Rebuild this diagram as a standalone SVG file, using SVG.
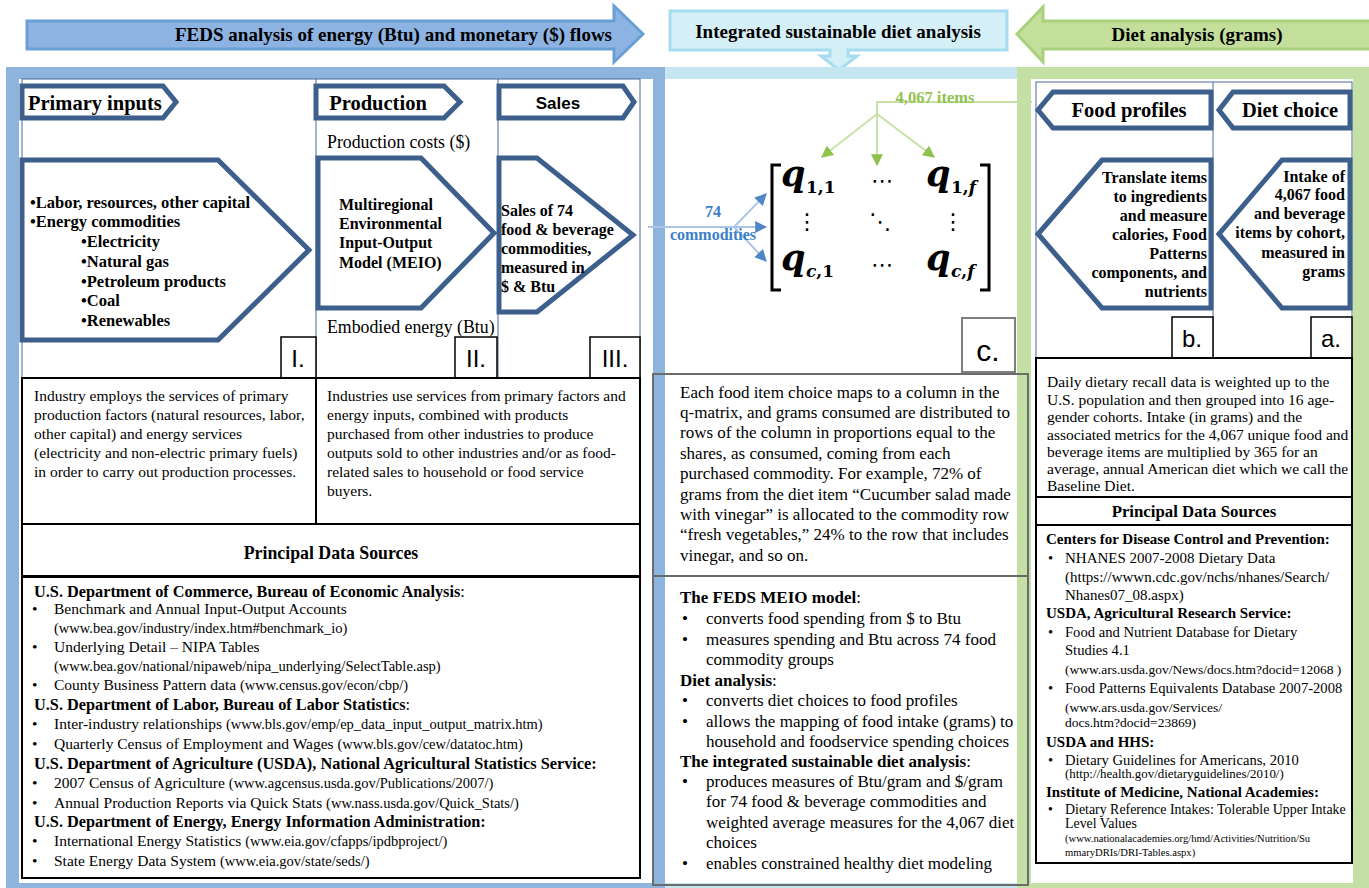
<svg xmlns="http://www.w3.org/2000/svg" width="1369" height="888" viewBox="0 0 1369 888">
<defs>
<style>
.nav{fill:#fff;stroke:#3c5f8c;stroke-width:5;stroke-linejoin:miter}
.thin{fill:none;stroke:#4a6a9a;stroke-width:1}
.box{fill:none;stroke:#000;stroke-width:2}
.gbox{fill:none;stroke:#6b6b6b;stroke-width:2}
.ttl{font-family:"Liberation Serif",serif;font-weight:bold;font-size:20.5px;fill:#000}
.ban{font-family:"Liberation Serif",serif;font-weight:bold;font-size:19px;fill:#000}
.b15{font-family:"Liberation Serif",serif;font-weight:bold;font-size:16px;fill:#000}
.hd{font-family:"Liberation Serif",serif;font-weight:bold;font-size:16.3px;fill:#000}
.hr{font-family:"Liberation Serif",serif;font-weight:bold;font-size:15px;fill:#000}
.r14{font-family:"Liberation Serif",serif;font-size:15.5px;fill:#000}
.r17{font-family:"Liberation Serif",serif;font-size:17px;fill:#000}
.b17{font-family:"Liberation Serif",serif;font-weight:bold;font-size:17px;fill:#000}
.r18{font-family:"Liberation Serif",serif;font-size:17.8px;fill:#000}
.s15{font-family:"Liberation Serif",serif;font-size:15.5px;fill:#000}
.u13{font-family:"Liberation Serif",serif;font-size:14.5px;fill:#000}
.s14{font-family:"Liberation Serif",serif;font-size:14.6px;fill:#000}
.u15{font-family:"Liberation Serif",serif;font-size:15px;fill:#000}
.u135{font-family:"Liberation Serif",serif;font-size:13.5px;fill:#000}
.u13b{font-family:"Liberation Serif",serif;font-size:12.9px;fill:#000}
.u14{font-family:"Liberation Serif",serif;font-size:13.9px;fill:#000}
.u11{font-family:"Liberation Serif",serif;font-size:10.6px;fill:#000}
.num{font-family:"Liberation Sans",sans-serif;font-size:24px;fill:#000}
.q{font-family:"DejaVu Serif",serif;font-weight:bold;font-style:italic;font-size:35px;fill:#000}
.sub{font-family:"DejaVu Serif",serif;font-weight:bold;font-size:17px;fill:#000}
.subi{font-family:"DejaVu Serif",serif;font-weight:bold;font-style:italic;font-size:17px;fill:#000}
.dots{font-family:"DejaVu Sans",sans-serif;font-size:22px;fill:#000}
.bar-b{fill:#8db4dc}
.bar-c{fill:#c5e6f0}
.bar-g{fill:#c5e0a5}
</style>
<marker id="ag" viewBox="0 0 10 10" refX="9" refY="5" markerWidth="12" markerHeight="12" markerUnits="userSpaceOnUse" orient="auto"><path d="M0,0 L10,5 L0,10 Z" fill="#8dc24d"/></marker>
<marker id="ab" viewBox="0 0 10 10" refX="9" refY="5" markerWidth="12" markerHeight="12" markerUnits="userSpaceOnUse" orient="auto"><path d="M0,0 L10,5 L0,10 Z" fill="#4f86c6"/></marker>
</defs>
<rect width="1369" height="888" fill="#fff"/>

<!-- banners -->
<g id="banner-feds">
<path d="M27,21 H614 V6 L643,34 L614,62 V49 H27 Z" fill="#8db3e2" stroke="#6a9fd6" stroke-width="3"/>
<text class="ban" x="612" y="41" text-anchor="end">FEDS analysis of energy (Btu) and monetary ($) flows</text>
</g>
<g id="banner-integrated">
<path d="M670,11 H1007 V50 H848 V56 H857 L839,70 L821,56 H830 V50 H670 Z" fill="#d5eff6" stroke="#a5dcef" stroke-width="3"/>
<text class="ban" x="838" y="38" text-anchor="middle">Integrated sustainable diet analysis</text>
</g>
<g id="banner-diet">
<path d="M1369,21 H1043 V7 L1017,34 L1043,62 V49 H1369" fill="#c4df9b" stroke="#a9d17d" stroke-width="3"/>
<text class="ban" x="1197" y="41" text-anchor="middle">Diet analysis (grams)</text>
</g>

<!-- panel frames -->
<g id="frames">
<rect class="bar-b" x="6" y="67" width="647" height="12"/>
<rect class="bar-b" x="6" y="67" width="13" height="821"/>
<rect class="bar-b" x="6" y="883" width="647" height="5"/>
<rect class="bar-c" x="665" y="67" width="352" height="12"/>
<rect class="bar-c" x="665" y="883" width="352" height="5"/>
<rect class="bar-b" x="653" y="67" width="12" height="821"/>
<rect class="bar-g" x="1017" y="67" width="352" height="12"/>
<rect class="bar-g" x="1017" y="67" width="14" height="821"/>
<rect class="bar-g" x="1353" y="67" width="16" height="821"/>
<rect class="bar-g" x="1031" y="883" width="322" height="5"/>
</g>

<!-- left panel -->
<g id="left-frame">
<rect class="thin" x="22" y="79" width="618" height="299"/>
<line class="thin" x1="316" y1="79" x2="316" y2="378"/>
<line class="thin" x1="498" y1="79" x2="498" y2="378"/>
</g>
<g id="hdr-primary">
<path class="nav" d="M22,86 H163 L176,102 L163,118 H22 Z"/>
<text class="ttl" x="28" y="110">Primary inputs</text>
</g>
<g id="hdr-production">
<path class="nav" d="M316,86 H444 L460,102 L444,118 H316 Z"/>
<text class="ttl" x="378" y="110" text-anchor="middle">Production</text>
</g>
<g id="hdr-sales">
<path class="nav" d="M499,86 H623 L634,102 L623,118 H499 Z"/>
<text x="558" y="109" text-anchor="middle" style="font-family:'Liberation Sans',sans-serif;font-weight:bold;font-size:17px">Sales</text>
</g>
<g id="node-I">
<path class="nav" d="M22,160 H218 L309,250 L218,340 H22 Z"/>
<text class="b15" x="30" y="208" style="font-size:16.5px">•Labor, resources, other capital</text>
<text class="b15" x="30" y="227" style="font-size:16.5px">•Energy commodities</text>
<text class="b15" x="81" y="247" style="font-size:16.5px">•Electricity</text>
<text class="b15" x="81" y="267" style="font-size:16.5px">•Natural gas</text>
<text class="b15" x="81" y="287" style="font-size:16.5px">•Petroleum products</text>
<text class="b15" x="81" y="306" style="font-size:16.5px">•Coal</text>
<text class="b15" x="81" y="326" style="font-size:16.5px">•Renewables</text>
<rect x="281" y="337" width="35" height="41" fill="#fff" stroke="#000" stroke-width="1.5"/>
<text class="num" x="298" y="367" text-anchor="middle">I.</text>
</g>
<g id="node-II">
<text class="r18" x="327" y="148">Production costs ($)</text>
<path class="nav" d="M318,158 H421 L494,233 L421,308 H318 Z"/>
<text class="b15" x="339" y="210">Multiregional</text>
<text class="b15" x="339" y="229">Environmental</text>
<text class="b15" x="339" y="248">Input-Output</text>
<text class="b15" x="339" y="268">Model (MEIO)</text>
<text class="r18" x="327" y="333">Embodied energy (Btu)</text>
<rect x="455" y="337" width="42" height="41" fill="#fff" stroke="#000" stroke-width="1.5"/>
<text class="num" x="476" y="367" text-anchor="middle">II.</text>
</g>
<g id="node-III">
<path class="nav" d="M499,158 H537 L633,235 L537,312 H499 Z"/>
<text class="b15" x="501" y="216">Sales of 74</text>
<text class="b15" x="501" y="235">food &amp; beverage</text>
<text class="b15" x="501" y="254">commodities,</text>
<text class="b15" x="501" y="273">measured in</text>
<text class="b15" x="501" y="292">$ &amp; Btu</text>
<rect x="590" y="337" width="50" height="41" fill="#fff" stroke="#000" stroke-width="1.5"/>
<text class="num" x="615" y="367" text-anchor="middle">III.</text>
</g>
<g id="desc-left">
<rect class="box" x="22" y="378" width="294" height="146"/>
<rect class="box" x="316" y="378" width="324" height="146"/>
<text class="r14" x="34" y="401">Industry employs the services of primary</text>
<text class="r14" x="34" y="420">production factors (natural resources, labor,</text>
<text class="r14" x="34" y="439">other capital) and energy services</text>
<text class="r14" x="34" y="458">(electricity and non-electric primary fuels)</text>
<text class="r14" x="34" y="477">in order to carry out production processes.</text>
<text class="r14" x="327" y="401">Industries use services from primary factors and</text>
<text class="r14" x="327" y="420">energy inputs, combined with products</text>
<text class="r14" x="327" y="439">purchased from other industries to produce</text>
<text class="r14" x="327" y="458">outputs sold to other industries and/or as food-</text>
<text class="r14" x="327" y="477">related sales to household or food service</text>
<text class="r14" x="327" y="496">buyers.</text>
</g>
<g id="sources-left">
<rect class="box" x="22" y="524" width="618" height="52"/>
<text class="b17" x="331" y="559" text-anchor="middle" style="font-size:17.8px">Principal Data Sources</text>
<rect class="box" x="22" y="577" width="618" height="301"/>
<text class="hd" x="34" y="597">U.S. Department of Commerce, Bureau of Economic Analysis<tspan font-weight="normal">:</tspan></text>
<text class="s15" x="32" y="614">•</text><text class="s15" x="54" y="614">Benchmark and Annual Input-Output Accounts</text>
<text class="u13" x="54" y="633">(www.bea.gov/industry/index.htm#benchmark_io)</text>
<text class="s15" x="32" y="652">•</text><text class="s15" x="54" y="652">Underlying Detail – NIPA Tables</text>
<text class="u13" x="54" y="671">(www.bea.gov/national/nipaweb/nipa_underlying/SelectTable.asp)</text>
<text class="s15" x="32" y="690">•</text><text class="s15" x="54" y="690">County Business Pattern data <tspan class="u13">(www.census.gov/econ/cbp/)</tspan></text>
<text class="hd" x="34" y="710">U.S. Department of Labor, Bureau of Labor Statistics<tspan font-weight="normal">:</tspan></text>
<text class="s15" x="32" y="729">•</text><text class="s15" x="54" y="729">Inter-industry relationships <tspan class="u13">(www.bls.gov/emp/ep_data_input_output_matrix.htm)</tspan></text>
<text class="s15" x="32" y="749">•</text><text class="s15" x="54" y="749">Quarterly Census of Employment and Wages <tspan class="u13">(www.bls.gov/cew/datatoc.htm)</tspan></text>
<text class="hd" x="34" y="769">U.S. Department of Agriculture (USDA), National Agricultural Statistics Service:</text>
<text class="s15" x="32" y="788">•</text><text class="s15" x="54" y="788">2007 Census of Agriculture <tspan class="u13">(www.agcensus.usda.gov/Publications/2007/)</tspan></text>
<text class="s15" x="32" y="808">•</text><text class="s15" x="54" y="808">Annual Production Reports via Quick Stats <tspan class="u13">(ww.nass.usda.gov/Quick_Stats/)</tspan></text>
<text class="hd" x="34" y="827">U.S. Department of Energy, Energy Information Administration:</text>
<text class="s15" x="32" y="846">•</text><text class="s15" x="54" y="846">International Energy Statistics <tspan class="u13">(www.eia.gov/cfapps/ipdbproject/)</tspan></text>
<text class="s15" x="32" y="866">•</text><text class="s15" x="54" y="866">State Energy Data System <tspan class="u13">(www.eia.gov/state/seds/)</tspan></text>
</g>

<!-- middle panel -->
<g id="matrix">
<path d="M781,165 H772 V290 H781" fill="none" stroke="#000" stroke-width="3"/>
<path d="M980,165 H989 V290 H980" fill="none" stroke="#000" stroke-width="3"/>
<text class="q" x="781" y="186">q</text><text class="sub" x="806" y="193">1,1</text>
<text class="dots" x="882" y="188" text-anchor="middle">⋯</text>
<text class="q" x="926" y="186">q</text><text class="sub" x="951" y="193">1,<tspan class="subi">f</tspan></text>
<text class="dots" x="807" y="229" text-anchor="middle">⋮</text>
<text class="dots" x="880" y="229" text-anchor="middle">⋱</text>
<text class="dots" x="953" y="229" text-anchor="middle">⋮</text>
<text class="q" x="781" y="270">q</text><text class="sub" x="806" y="277"><tspan class="subi">c</tspan>,1</text>
<text class="dots" x="882" y="272" text-anchor="middle">⋯</text>
<text class="q" x="926" y="270">q</text><text class="sub" x="951" y="277"><tspan class="subi">c</tspan>,<tspan class="subi">f</tspan></text>
<rect x="962" y="318" width="53" height="54" fill="#fff" stroke="#7f7f7f" stroke-width="2"/>
<text x="988" y="361" text-anchor="middle" style="font-family:'Liberation Sans',sans-serif;font-size:30px">c.</text>
</g>
<g id="connectors">
<polyline points="1032,102 877,102 877,165" fill="none" stroke="#c7e2a5" stroke-width="2" marker-end="url(#ag)"/>
<line x1="877" y1="114" x2="822" y2="157" stroke="#c7e2a5" stroke-width="2" marker-end="url(#ag)"/>
<line x1="877" y1="114" x2="934" y2="157" stroke="#c7e2a5" stroke-width="2" marker-end="url(#ag)"/>
<line x1="648" y1="227" x2="766" y2="227" stroke="#a9c5e8" stroke-width="2" marker-end="url(#ab)"/>
<line x1="734" y1="227" x2="766" y2="194" stroke="#a9c5e8" stroke-width="2" marker-end="url(#ab)"/>
<line x1="734" y1="227" x2="766" y2="261" stroke="#a9c5e8" stroke-width="2" marker-end="url(#ab)"/>
<text x="935" y="103" text-anchor="middle" style="font-family:'Liberation Serif',serif;font-weight:bold;font-size:16.5px;fill:#92c353">4,067 items</text>
<text x="713" y="217" text-anchor="middle" style="font-family:'Liberation Serif',serif;font-weight:bold;font-size:16px;fill:#3d7fc6">74</text>
<text x="713" y="240" text-anchor="middle" style="font-family:'Liberation Serif',serif;font-weight:bold;font-size:16px;fill:#3d7fc6">commodities</text>
</g>
<g id="desc-middle">
<rect class="gbox" x="653" y="374" width="375" height="202"/>
<text class="r17" x="680" y="398">Each food item choice maps to a column in the</text>
<text class="r17" x="680" y="418">q-matrix, and grams consumed are distributed to</text>
<text class="r17" x="680" y="438">rows of the column in proportions equal to the</text>
<text class="r17" x="680" y="459">shares, as consumed, coming from each</text>
<text class="r17" x="680" y="479">purchased commodity. For example, 72% of</text>
<text class="r17" x="680" y="500">grams from the diet item “Cucumber salad made</text>
<text class="r17" x="680" y="520">with vinegar” is allocated to the commodity row</text>
<text class="r17" x="680" y="540">“fresh vegetables,” 24% to the row that includes</text>
<text class="r17" x="680" y="561">vinegar, and so on.</text>
</g>
<g id="summary-middle">
<rect class="gbox" x="653" y="576" width="375" height="309"/>
<text class="b17" x="680" y="603">The FEDS MEIO model<tspan font-weight="normal">:</tspan></text>
<text class="r17" x="682" y="624">•</text><text class="r17" x="706" y="624">converts food spending from $ to Btu</text>
<text class="r17" x="682" y="645">•</text><text class="r17" x="706" y="645">measures spending and Btu across 74 food</text>
<text class="r17" x="706" y="665">commodity groups</text>
<text class="b17" x="680" y="686">Diet analysis<tspan font-weight="normal">:</tspan></text>
<text class="r17" x="682" y="706">•</text><text class="r17" x="706" y="706">converts diet choices to food profiles</text>
<text class="r17" x="682" y="727">•</text><text class="r17" x="706" y="727">allows the mapping of food intake (grams) to</text>
<text class="r17" x="706" y="747">household and foodservice spending choices</text>
<text class="b17" x="680" y="767">The integrated sustainable diet analysis<tspan font-weight="normal">:</tspan></text>
<text class="r17" x="682" y="787">•</text><text class="r17" x="706" y="787">produces measures of Btu/gram and $/gram</text>
<text class="r17" x="706" y="807">for 74 food &amp; beverage commodities and</text>
<text class="r17" x="706" y="828">weighted average measures for the 4,067 diet</text>
<text class="r17" x="706" y="848">choices</text>
<text class="r17" x="682" y="869">•</text><text class="r17" x="706" y="869">enables constrained healthy diet modeling</text>
</g>

<!-- right panel -->
<g id="right-frame">
<rect class="thin" x="1036" y="82" width="316" height="276"/>
<line class="thin" x1="1213" y1="82" x2="1213" y2="358"/>
</g>
<g id="hdr-food-profiles">
<path class="nav" d="M1211,92 H1053 L1038,110 L1053,128 H1211 Z"/>
<text class="ttl" x="1129" y="117" text-anchor="middle">Food profiles</text>
</g>
<g id="hdr-diet-choice">
<path class="nav" d="M1350,92 H1233 L1219,110 L1233,128 H1350 Z"/>
<text class="ttl" x="1290" y="117" text-anchor="middle">Diet choice</text>
</g>
<g id="node-b">
<path class="nav" d="M1211,160 H1102 L1038,234 L1102,308 H1211 Z"/>
<text class="b15" x="1207" y="183" text-anchor="end">Translate items</text>
<text class="b15" x="1207" y="202" text-anchor="end">to ingredients</text>
<text class="b15" x="1207" y="221" text-anchor="end">and measure</text>
<text class="b15" x="1207" y="240" text-anchor="end">calories, Food</text>
<text class="b15" x="1207" y="259" text-anchor="end">Patterns</text>
<text class="b15" x="1207" y="278" text-anchor="end">components, and</text>
<text class="b15" x="1207" y="297" text-anchor="end">nutrients</text>
<rect x="1172" y="317" width="41" height="41" fill="#fff" stroke="#000" stroke-width="1.5"/>
<text class="num" x="1192" y="347" text-anchor="middle">b.</text>
</g>
<g id="node-a">
<path class="nav" d="M1350,160 H1282 L1219,234 L1282,308 H1350 Z"/>
<text class="b15" x="1345" y="182" text-anchor="end">Intake of</text>
<text class="b15" x="1345" y="200" text-anchor="end">4,067 food</text>
<text class="b15" x="1345" y="219" text-anchor="end">and beverage</text>
<text class="b15" x="1345" y="238" text-anchor="end">items by cohort,</text>
<text class="b15" x="1345" y="258" text-anchor="end">measured in</text>
<text class="b15" x="1345" y="277" text-anchor="end">grams</text>
<rect x="1311" y="317" width="41" height="41" fill="#fff" stroke="#000" stroke-width="1.5"/>
<text class="num" x="1331" y="347" text-anchor="middle">a.</text>
</g>
<g id="desc-right">
<rect class="box" x="1036" y="358" width="316" height="139"/>
<text class="r14" x="1047" y="387">Daily dietary recall data is weighted up to the</text>
<text class="r14" x="1047" y="405">U.S. population and then grouped into 16 age-</text>
<text class="r14" x="1047" y="422">gender cohorts. Intake (in grams) and the</text>
<text class="r14" x="1047" y="440">associated metrics for the 4,067 unique food and</text>
<text class="r14" x="1047" y="457">beverage items are multiplied by 365 for an</text>
<text class="r14" x="1047" y="474">average, annual American diet which we call the</text>
<text class="r14" x="1047" y="491">Baseline Diet.</text>
</g>
<g id="sources-right">
<rect class="box" x="1036" y="497" width="316" height="28"/>
<text class="b17" x="1194" y="517" text-anchor="middle" style="font-size:16.8px">Principal Data Sources</text>
<rect class="box" x="1036" y="525" width="316" height="338"/>
<text class="hr" x="1046" y="544">Centers for Disease Control and Prevention:</text>
<text class="s14" x="1048" y="563">•</text><text class="s14" x="1065" y="563" style="font-size:15px">NHANES 2007-2008 Dietary Data</text>
<text class="u15" x="1065" y="582">(https://wwwn.cdc.gov/nchs/nhanes/Search/</text>
<text class="u15" x="1065" y="600">Nhanes07_08.aspx)</text>
<text class="hr" x="1046" y="618">USDA, Agricultural Research Service:</text>
<text class="s14" x="1048" y="637">•</text><text class="s14" x="1065" y="637">Food and Nutrient Database for Dietary</text>
<text class="s14" x="1065" y="655">Studies 4.1</text>
<text class="u135" x="1065" y="674">(www.ars.usda.gov/News/docs.htm?docid=12068 )</text>
<text class="s14" x="1048" y="693">•</text><text class="s14" x="1065" y="693">Food Patterns Equivalents Database 2007-2008</text>
<text class="u135" x="1065" y="712">(www.ars.usda.gov/Services/</text>
<text class="u135" x="1065" y="727">docs.htm?docid=23869)</text>
<text class="hr" x="1046" y="747">USDA and HHS:</text>
<text class="s14" x="1048" y="765">•</text><text class="s14" x="1065" y="765">Dietary Guidelines for Americans, 2010</text>
<text class="u13b" x="1065" y="778">(http://health.gov/dietaryguidelines/2010/)</text>
<text class="hr" x="1046" y="797">Institute of Medicine, National Academies:</text>
<text class="u14" x="1048" y="814">•</text><text class="u14" x="1065" y="814">Dietary Reference Intakes: Tolerable Upper Intake</text>
<text class="u14" x="1065" y="828">Level Values</text>
<text class="u11" x="1065" y="842">(www.nationalacademies.org/hmd/Activities/Nutrition/Su</text>
<text class="u11" x="1065" y="856">mmaryDRIs/DRI-Tables.aspx)</text>
</g>
</svg>
